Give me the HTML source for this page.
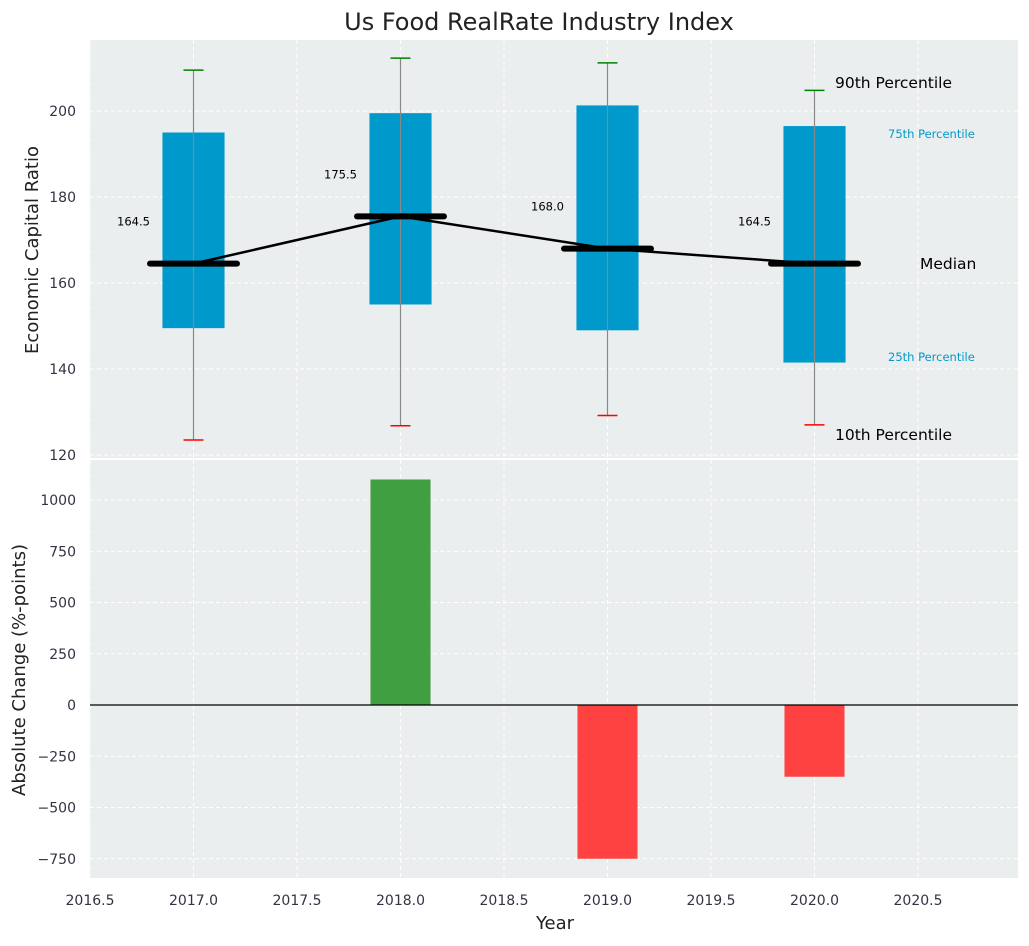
<!DOCTYPE html>
<html><head><meta charset="utf-8"><style>
body{margin:0;background:#fff;font-family:"DejaVu Sans","Liberation Sans",sans-serif}
svg text{font-family:"DejaVu Sans","Liberation Sans",sans-serif}
</style></head><body>
<svg id="c" width="1029" height="942" xmlns="http://www.w3.org/2000/svg"></svg>
<script>
const years=[2017,2018,2019,2020];
const p10=[123.5,126.8,129.2,127.0];
const q1=[149.5,155.0,149.0,141.5];
const med=[164.5,175.5,168.0,164.5];
const q3=[195.0,199.5,201.3,196.5];
const p90=[209.5,212.3,211.2,204.8];
const changes=[0,1100,-750,-350];
const xTicks=[2016.5,2017.0,2017.5,2018.0,2018.5,2019.0,2019.5,2020.0,2020.5];
const yTopTicks=[120,140,160,180,200];
const yBotTicks=[-750,-500,-250,0,250,500,750,1000];

const svg=document.getElementById('c');const NS='http://www.w3.org/2000/svg';
function el(t,a,txt){const e=document.createElementNS(NS,t);for(const k in a)e.setAttribute(k,a[k]);if(txt!==undefined)e.textContent=txt;svg.appendChild(e);return e;}
const L=90,R=1018;
const x=v=>L+(v-2016.5)*207;
const T0=40,T1=458,yT=v=>111+(200-v)*4.3;
const B0=460,B1=878,yB=v=>705-v*0.205;

let t=el('text',{x:539,y:30,'font-size':24,'text-anchor':'middle',fill:'#222'},'Us Food RealRate Industry Index');

let r=el('rect',{x:L,y:T0,width:R-L,height:T1-T0,fill:'#ebeeee'});

r=el('rect',{x:L,y:B0,width:R-L,height:B1-B0,fill:'#ebeeee'});

xTicks.forEach(v=>{
 el('line',{x1:x(v),x2:x(v),y1:T0,y2:T1,stroke:'#fff','stroke-dasharray':'4,3'});
 el('line',{x1:x(v),x2:x(v),y1:B0,y2:B1,stroke:'#fff','stroke-dasharray':'4,3'});
 let tl=el('text',{x:x(v),y:B1+27,'font-size':14,'text-anchor':'middle',fill:'#334'},v.toFixed(1));
 
});
yTopTicks.forEach(v=>{
 el('line',{x1:L,x2:R,y1:yT(v),y2:yT(v),stroke:'#fff','stroke-dasharray':'4,3'});
 let tl=el('text',{x:L-14,y:yT(v)+5,'font-size':14,'text-anchor':'end',fill:'#334'},v);
 
});
yBotTicks.forEach(v=>{
 el('line',{x1:L,x2:R,y1:yB(v),y2:yB(v),stroke:'#fff','stroke-dasharray':'4,3'});
 let tl=el('text',{x:L-14,y:yB(v)+5,'font-size':14,'text-anchor':'end',fill:'#334'},String(v).replace('-','\u2212'));
 
});
years.forEach((yr,i)=>{
 const cx=x(yr),hw=0.15*207;
 let b=el('rect',{x:cx-hw,y:yT(q3[i]),width:2*hw,height:yT(q1[i])-yT(q3[i]),fill:'#0099cc'});
 
 el('line',{x1:cx,x2:cx,y1:yT(p90[i]),y2:yT(p10[i]),stroke:'#888','stroke-width':1.2});
 el('line',{x1:cx-10,x2:cx+10,y1:yT(p90[i]),y2:yT(p90[i]),stroke:'green','stroke-width':1.5});
 el('line',{x1:cx-10,x2:cx+10,y1:yT(p10[i]),y2:yT(p10[i]),stroke:'red','stroke-width':1.5});
});
let pts=years.map((yr,i)=>x(yr)+','+yT(med[i])).join(' ');
let pl=el('polyline',{points:pts,fill:'none',stroke:'#000','stroke-width':2.5});

years.forEach((yr,i)=>{
 const cx=x(yr),hw=0.21*207;
 let m=el('line',{x1:cx-hw,x2:cx+hw,y1:yT(med[i]),y2:yT(med[i]),stroke:'#000','stroke-width':6,'stroke-linecap':'round'});
 
 let l=el('text',{x:cx-60,y:yT(med[i])-38,'font-size':11.5,'text-anchor':'middle',fill:'#000'},med[i].toFixed(1));
 
});
const ann=[['90th Percentile',835,88,15.5,'#000'],['75th Percentile',888,138,11.5,'#0099cc'],['Median',920,269,15.5,'#000'],['25th Percentile',888,361,11.5,'#0099cc'],['10th Percentile',835,440,15.5,'#000']];
ann.forEach(a=>{let e=el('text',{x:a[1],y:a[2],'font-size':a[3],fill:a[4]},a[0]);});
years.forEach((yr,i)=>{
 if(!changes[i])return;
 const cx=x(yr),hw=0.145*207,v=changes[i];
 let b=el('rect',{x:cx-hw,y:Math.min(yB(v),yB(0)),width:2*hw,height:Math.abs(yB(v)-yB(0)),fill:v>0?'#2e962e':'#ff3333','fill-opacity':v>0?0.9:0.92});
 
});
el('line',{x1:L,x2:R,y1:yB(0),y2:yB(0),stroke:'#000','stroke-width':1.2});
t=el('text',{x:0,y:0,'font-size':18,'text-anchor':'middle',fill:'#222',transform:'translate(38,250) rotate(-90)'},'Economic Capital Ratio');

t=el('text',{x:0,y:0,'font-size':18,'text-anchor':'middle',fill:'#222',transform:'translate(25,670) rotate(-90)'},'Absolute Change (%-points)');

t=el('text',{x:555,y:929,'font-size':18,'text-anchor':'middle',fill:'#222'},'Year');

</script>
</body></html>
